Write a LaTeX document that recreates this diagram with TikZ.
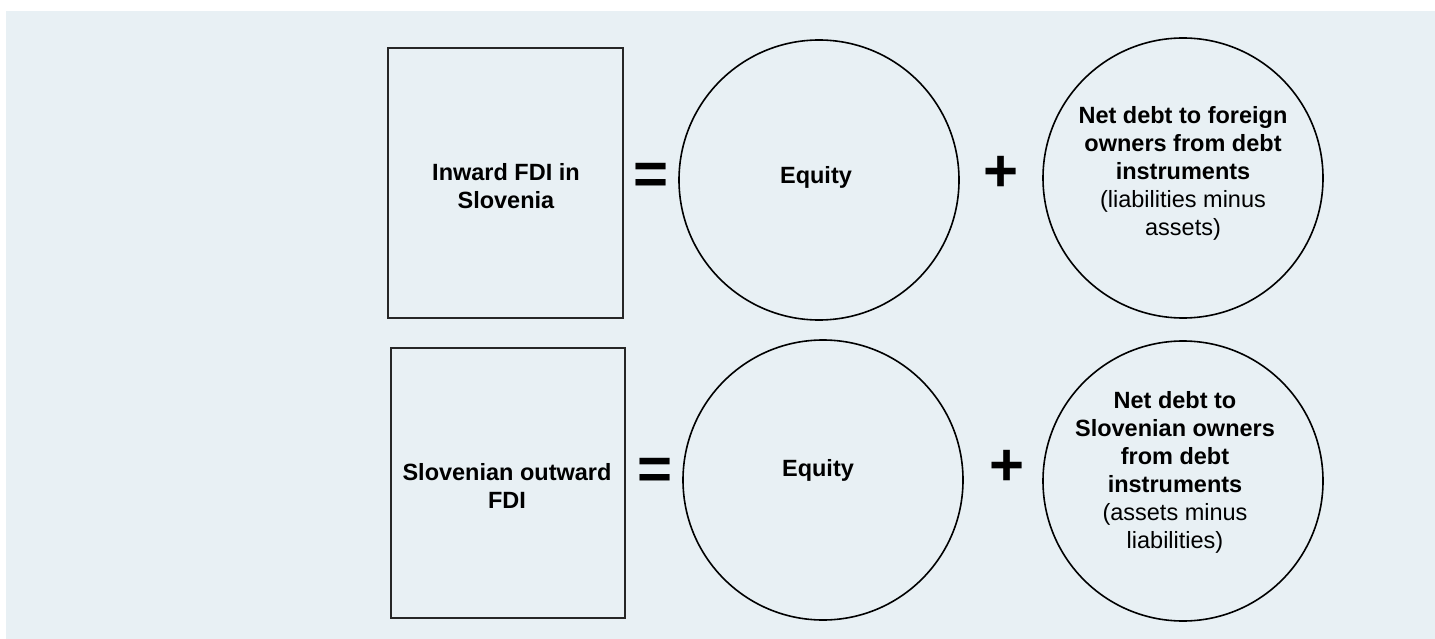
\documentclass[tikz,border=0pt]{standalone}
\usepackage{fontspec}
\setmainfont{Liberation Sans}
\definecolor{bgblue}{RGB}{232,240,244}
\begin{document}
\begin{tikzpicture}[x=1pt,y=-1pt,
  txt/.style={font=\fontsize{23.5}{28}\selectfont, align=center, inner sep=0pt},
  box/.style={draw=black!85, line width=1.8pt, rectangle, inner sep=0pt},
  circ/.style={draw=black, line width=1.6pt, circle, minimum size=280pt, inner sep=0pt},
  op/.style={font=\fontsize{60}{64}\selectfont\bfseries, inner sep=0pt}]
\useasboundingbox (0,0) rectangle (1435,639);
\fill[bgblue] (6,11) rectangle (1435,639);
% top row
\node[box, minimum width=235pt, minimum height=270pt] (inbox) at (505.5,183) {};
\node[txt] (intxt) at (506,186) {\textbf{Inward FDI in}\\\textbf{Slovenia}};
\node[op] (eq1) at (651,179) {=};
\node[circ] (eqc1) at (819,180) {};
\node[txt] (eqt1) at (816,177) {\textbf{Equity}};
\node[op] (pl1) at (1001,174) {+};
\node[circ] (debt1) at (1183,178) {};
\node[txt] (debtt1) at (1183,173) {\textbf{Net debt to foreign}\\\textbf{owners from debt}\\\textbf{instruments}\\(liabilities minus\\assets)};
% bottom row
\node[box, minimum width=234pt, minimum height=270pt] (outbox) at (508,483) {};
\node[txt] (outtxt) at (507,486) {\textbf{Slovenian outward}\\\textbf{FDI}};
\node[op] (eq2) at (655,474) {=};
\node[circ] (eqc2) at (823,480) {};
\node[txt] (eqt2) at (818,470) {\textbf{Equity}};
\node[op] (pl2) at (1007,468) {+};
\node[circ] (debt2) at (1183,481) {};
\node[txt] (debtt2) at (1175,472) {\textbf{Net debt to}\\\textbf{Slovenian owners}\\\textbf{from debt}\\\textbf{instruments}\\(assets minus\\liabilities)};
\end{tikzpicture}
\end{document}
